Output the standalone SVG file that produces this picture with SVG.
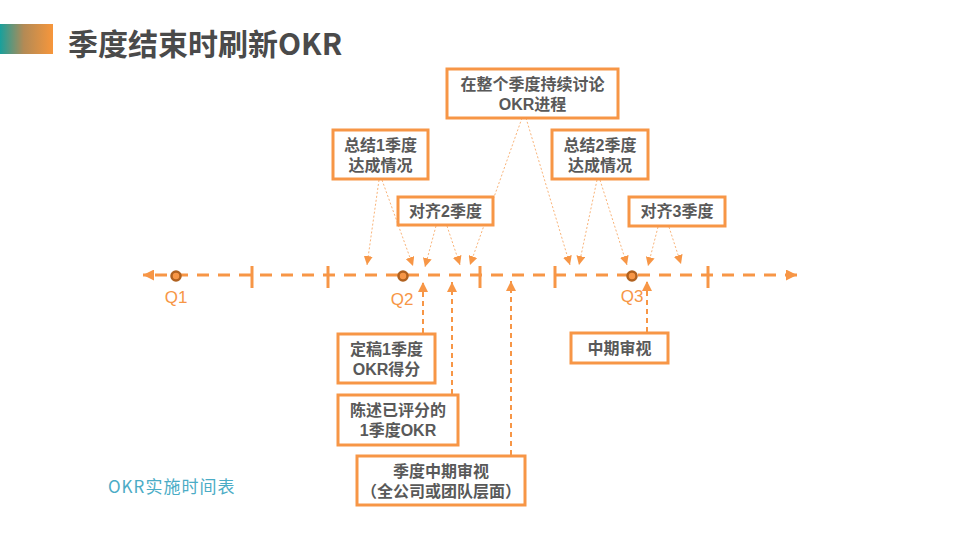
<svg xmlns="http://www.w3.org/2000/svg" width="960" height="540" viewBox="0 0 960 540">
<defs>
<linearGradient id="tg" x1="0" y1="0" x2="1" y2="0">
<stop offset="0" stop-color="#18a09c"/>
<stop offset="0.45" stop-color="#b38a55"/>
<stop offset="1" stop-color="#f7963b"/>
</linearGradient>
<marker id="ah" viewBox="0 0 10 10" refX="10" refY="5" markerWidth="10" markerHeight="10" markerUnits="userSpaceOnUse" orient="auto">
<path d="M0,0 L10,5 L0,10 z" fill="#f79646"/>
</marker>
<marker id="ahs" viewBox="0 0 10 10" refX="10" refY="5" markerWidth="9" markerHeight="9" markerUnits="userSpaceOnUse" orient="auto">
<path d="M0,0 L10,5 L0,10 z" fill="#f79646"/>
</marker>
<marker id="ahm" viewBox="0 0 10 10" refX="10" refY="5" markerWidth="12" markerHeight="11" markerUnits="userSpaceOnUse" orient="auto">
<path d="M0,0 L10,5 L0,10 z" fill="#f79646"/>
</marker>
</defs>
<style>
.box{fill:#fff;stroke:#f79646;stroke-width:3}
.t{font-family:"Liberation Sans","Noto Sans CJK SC",sans-serif;font-size:16px;font-weight:bold;fill:#595959;text-anchor:middle}
.q{font-family:"Liberation Sans","Noto Sans CJK SC",sans-serif;font-size:17px;fill:#f79646;text-anchor:middle}
.dot{fill:none;stroke:#f9b47a;stroke-width:1;stroke-dasharray:2 2}
.dv{fill:none;stroke:#f79646;stroke-width:2;stroke-dasharray:5 4}
.tick{stroke:#f79646;stroke-width:3}
.pt{fill:#f79646;stroke:#b0611f;stroke-width:2.5}
</style>
<rect width="960" height="540" fill="#fff"/>
<g id="title">
<rect x="0" y="24" width="53" height="30" fill="url(#tg)"/>
<text x="68" y="55" font-family="Noto Sans CJK SC,Liberation Sans,sans-serif" font-size="30" font-weight="bold" fill="#4a4a4a">季度结束时刷新OKR</text>
</g>
<g id="connectors">
<line x1="790" y1="275" x2="797" y2="275" stroke="#f79646" stroke-width="3" marker-end="url(#ahm)"/>
<line x1="150" y1="275" x2="143" y2="275" stroke="#f79646" stroke-width="3" marker-end="url(#ahm)"/>
<line x1="155" y1="275" x2="790" y2="275" stroke="#f79646" stroke-width="3" stroke-dasharray="12 9"/>
<line class="tick" x1="252" y1="266" x2="252" y2="288"/>
<line class="tick" x1="328" y1="266" x2="328" y2="288"/>
<line class="tick" x1="480" y1="266" x2="480" y2="288"/>
<line class="tick" x1="555" y1="266" x2="555" y2="288"/>
<line class="tick" x1="708" y1="266" x2="708" y2="288"/>
<line class="dot" x1="379" y1="180" x2="367" y2="265" marker-end="url(#ahs)"/>
<line class="dot" x1="382" y1="180" x2="413" y2="266" marker-end="url(#ahs)"/>
<line class="dot" x1="436" y1="226" x2="425" y2="267" marker-end="url(#ahs)"/>
<line class="dot" x1="447" y1="226" x2="460" y2="265" marker-end="url(#ahs)"/>
<line class="dot" x1="522" y1="118" x2="470" y2="265" marker-end="url(#ahs)"/>
<line class="dot" x1="526" y1="118" x2="570" y2="265" marker-end="url(#ahs)"/>
<line class="dot" x1="597" y1="180" x2="579" y2="265" marker-end="url(#ahs)"/>
<line class="dot" x1="600" y1="180" x2="627" y2="265" marker-end="url(#ahs)"/>
<line class="dot" x1="658" y1="227" x2="648" y2="266" marker-end="url(#ahs)"/>
<line class="dot" x1="669" y1="227" x2="681" y2="264" marker-end="url(#ahs)"/>
<line class="dv" x1="423" y1="333" x2="423" y2="282" marker-end="url(#ah)"/>
<line class="dv" x1="452" y1="394" x2="452" y2="282" marker-end="url(#ah)"/>
<line class="dv" x1="511" y1="455" x2="511" y2="281" marker-end="url(#ah)"/>
<line class="dv" x1="647" y1="332" x2="647" y2="281" marker-end="url(#ah)"/>
</g>
<g id="q1"><circle class="pt" cx="176" cy="276" r="4.5"/><text class="q" x="176" y="303">Q1</text></g>
<g id="q2"><circle class="pt" cx="403" cy="276" r="4.5"/><text class="q" x="402" y="305">Q2</text></g>
<g id="q3"><circle class="pt" cx="632" cy="276" r="4.5"/><text class="q" x="632" y="302">Q3</text></g>
<g id="n-sum1"><rect class="box" x="333" y="130" width="95" height="49"/><text class="t" x="380.5" y="151">总结1季度</text><text class="t" x="380.5" y="171">达成情况</text></g>
<g id="n-discuss"><rect class="box" x="447" y="69" width="171" height="49"/><text class="t" x="532.5" y="90">在整个季度持续讨论</text><text class="t" x="532.5" y="110">OKR进程</text></g>
<g id="n-align2"><rect class="box" x="398" y="197" width="95" height="28"/><text class="t" x="445.5" y="217">对齐2季度</text></g>
<g id="n-sum2"><rect class="box" x="552" y="130" width="96" height="49"/><text class="t" x="600" y="151">总结2季度</text><text class="t" x="600" y="171">达成情况</text></g>
<g id="n-align3"><rect class="box" x="629" y="197" width="96" height="29"/><text class="t" x="677" y="217">对齐3季度</text></g>
<g id="n-final"><rect class="box" x="338" y="334" width="97" height="49"/><text class="t" x="386.5" y="355">定稿1季度</text><text class="t" x="386.5" y="375">OKR得分</text></g>
<g id="n-state"><rect class="box" x="338" y="395" width="120" height="50"/><text class="t" x="398" y="416">陈述已评分的</text><text class="t" x="398" y="436">1季度OKR</text></g>
<g id="n-midq"><rect class="box" x="357" y="456" width="168" height="49"/><text class="t" x="441" y="477">季度中期审视</text><text class="t" x="441" y="497">（全公司或团队层面）</text></g>
<g id="n-mid"><rect class="box" x="571" y="333" width="97" height="30"/><text class="t" x="619.5" y="354">中期审视</text></g>
<text x="108" y="493" font-family="Noto Sans CJK SC,Liberation Sans,sans-serif" font-size="17" letter-spacing="1" fill="#4bacc6">OKR实施时间表</text>
</svg>
